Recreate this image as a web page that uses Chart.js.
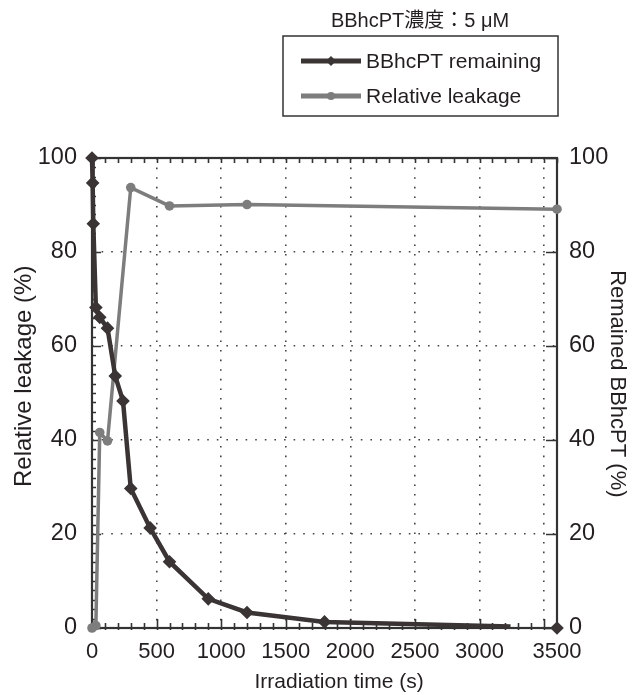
<!DOCTYPE html>
<html><head><meta charset="utf-8">
<script src="https://cdn.jsdelivr.net/npm/chart.js@4/dist/chart.umd.min.js"></script>
<style>html,body{margin:0;padding:0;background:#fff}#wrap{width:643px;height:695px;position:relative}</style>
</head><body><div id="wrap"><canvas id="c" width="643" height="695"></canvas></div>
<script>
// ---- data ----
const chartTitle = 'BBhcPT濃度：5 μM';
const seriesNames = ['BBhcPT remaining', 'Relative leakage'];
const remainingTimes = [0, 5, 10, 30, 60, 120, 180, 240, 300, 450, 600, 900, 1200, 1800, 3240, 3600];
const remainingValues = [100, 94.7, 86, 68.2, 66.1, 63.8, 53.6, 48.3, 29.7, 21.3, 14.1, 6.2, 3.3, 1.3, 0.3, 0];
const leakageTimes = [0, 30, 60, 120, 300, 600, 1200, 3600];
const leakageValues = [0, 0.5, 41.6, 39.8, 93.7, 89.8, 90.1, 89.1];
const xTickValues = [0, 500, 1000, 1500, 2000, 2500, 3000, 3500, 3600];
const xTickLabels = ['0', '500', '1000', '1500', '2000', '2500', '3000', '', '3500'];
const yTickValues = [0, 20, 40, 60, 80, 100];
const xAxisTitle = 'Irradiation time (s)';
const yLeftTitle = 'Relative leakage (%)';
const yRightTitle = 'Remained BBhcPT (%)';

// ---- styles ----
const DARK = '#3a3434';
const GRAY = '#7d7d7d';
const AXIS = '#333';
const TXT = '#231f20';
const FONT = '"Liberation Sans", Arial, "Noto Sans CJK JP", sans-serif';

const remainingData = remainingTimes.map((t, i) => ({x: t, y: remainingValues[i]}));
const leakageData = leakageTimes.map((t, i) => ({x: t, y: leakageValues[i]}));
const lastIdx = remainingData.length - 1;

const framePlugin = {
  id: 'frame',
  beforeDatasetsDraw(chart) {
    const {ctx, chartArea: a} = chart;
    const xs = chart.scales.x, ys = chart.scales.y;
    ctx.save();
    ctx.strokeStyle = AXIS;
    ctx.lineWidth = 1.6;
    ctx.beginPath();
    for (let v = 0; v <= 3600; v += 100) {
      const px = Math.round(xs.getPixelForValue(v)) + 0.5;
      const major = v % 500 === 0;
      ctx.moveTo(px, a.bottom + 2); ctx.lineTo(px, a.bottom - (major ? 9 : 5));
      ctx.moveTo(px, a.top); ctx.lineTo(px, a.top + 5);
    }
    for (let v = 0; v <= 100; v += 2) {
      const py = Math.round(ys.getPixelForValue(v)) + 0.5;
      const major = v % 20 === 0;
      ctx.moveTo(a.left, py); ctx.lineTo(a.left + (major ? 9 : 4), py);
      if (major) { ctx.moveTo(a.right, py); ctx.lineTo(a.right - 11, py); }
    }
    ctx.stroke();
    ctx.lineWidth = 2.2;
    ctx.strokeRect(a.left, a.top, a.right - a.left, a.bottom - a.top);
    ctx.restore();
  },
  afterDraw(chart) {
    const ctx = chart.ctx;
    ctx.save();
    ctx.fillStyle = TXT;
    ctx.textBaseline = 'middle';
    ctx.textAlign = 'center';
    ctx.font = '20px ' + FONT;
    ctx.fillText(chartTitle, 420, 21);
    ctx.strokeStyle = AXIS;
    ctx.lineWidth = 1.5;
    ctx.strokeRect(283, 36, 275, 80);
    const rows = [{y: 61, c: DARK, shape: 'd'}, {y: 96, c: GRAY, shape: 'o'}];
    rows.forEach((r, i) => {
      ctx.strokeStyle = r.c; ctx.fillStyle = r.c; ctx.lineWidth = 5;
      ctx.beginPath(); ctx.moveTo(301, r.y); ctx.lineTo(361, r.y); ctx.stroke();
      ctx.beginPath();
      if (r.shape === 'd') { ctx.moveTo(331, r.y - 5); ctx.lineTo(336, r.y); ctx.lineTo(331, r.y + 5); ctx.lineTo(326, r.y); ctx.closePath(); }
      else { ctx.arc(331, r.y, 4, 0, Math.PI * 2); }
      ctx.fill();
      ctx.fillStyle = TXT;
      ctx.textAlign = 'left';
      ctx.font = '21px ' + FONT;
      ctx.fillText(seriesNames[i], 366, r.y + 1);
    });
    ctx.restore();
  }
};

new Chart(document.getElementById('c'), {
  type: 'line',
  data: {
    datasets: [
      {
        label: seriesNames[0], data: remainingData, yAxisID: 'y2',
        borderColor: DARK, backgroundColor: DARK, borderWidth: 4.5,
        pointStyle: 'rectRot', pointRadius: ctx => ctx.dataIndex === lastIdx - 1 ? 0 : 6.8,
        pointBackgroundColor: DARK, pointBorderWidth: 0, pointHoverRadius: 6.8,
        segment: {borderColor: ctx => ctx.p1DataIndex === lastIdx ? 'transparent' : DARK},
        tension: 0, clip: false
      },
      {
        label: seriesNames[1], data: leakageData, yAxisID: 'y',
        borderColor: GRAY, backgroundColor: GRAY, borderWidth: 3.5,
        pointStyle: 'circle', pointRadius: 4.8, pointBackgroundColor: GRAY,
        pointBorderWidth: 0, tension: 0, clip: false
      }
    ]
  },
  options: {
    responsive: false, animation: false, devicePixelRatio: 1,
    layout: {padding: {top: 158, left: 0, right: 0, bottom: 0}},
    plugins: {legend: {display: false}, title: {display: false}, tooltip: {enabled: false}},
    scales: {
      x: {
        type: 'linear', position: 'bottom', min: 0, max: 3600,
        afterBuildTicks: s => { s.ticks = xTickValues.map(v => ({value: v})); },
        afterFit: s => { s.height = 67; },
        ticks: {autoSkip: false, maxRotation: 0, padding: 11, color: TXT, font: {family: FONT, size: 22},
          callback: (v, i) => xTickLabels[i]},
        grid: {drawTicks: false, lineWidth: 1.6,
          color: c => (c.tick && (c.tick.value === 0 || c.tick.value >= 3600)) ? 'rgba(0,0,0,0)' : '#444'},
        border: {display: false, dash: [1.6, 8]},
        title: {display: true, text: '     ' + xAxisTitle, color: TXT, font: {family: FONT, size: 21}, padding: {top: 0, bottom: 0}}
      },
      y: {
        type: 'linear', position: 'left', min: 0, max: 100,
        afterBuildTicks: s => { s.ticks = yTickValues.map(v => ({value: v})); },
        afterFit: s => { s.width = 92; },
        ticks: {padding: 15, color: TXT, font: {family: FONT, size: 23.5}},
        grid: {drawTicks: false, lineWidth: 1.6,
          color: c => (c.tick && (c.tick.value === 0 || c.tick.value === 100)) ? 'rgba(0,0,0,0)' : '#444'},
        border: {display: false, dash: [1.6, 8]},
        title: {display: true, text: '     ' + yLeftTitle, color: TXT, font: {family: FONT, size: 24}, padding: {top: 10, bottom: 0}}
      },
      y2: {
        type: 'linear', position: 'right', min: 0, max: 100,
        afterBuildTicks: s => { s.ticks = yTickValues.map(v => ({value: v})); },
        afterFit: s => { s.width = 86; },
        ticks: {padding: 12, color: TXT, font: {family: FONT, size: 23.5}},
        grid: {display: false, drawTicks: false},
        border: {display: false},
        title: {display: true, text: yRightTitle + '   ', color: TXT, font: {family: FONT, size: 22}, padding: {top: 13, bottom: 0}}
      }
    }
  },
  plugins: [framePlugin]
});
</script></body></html>
